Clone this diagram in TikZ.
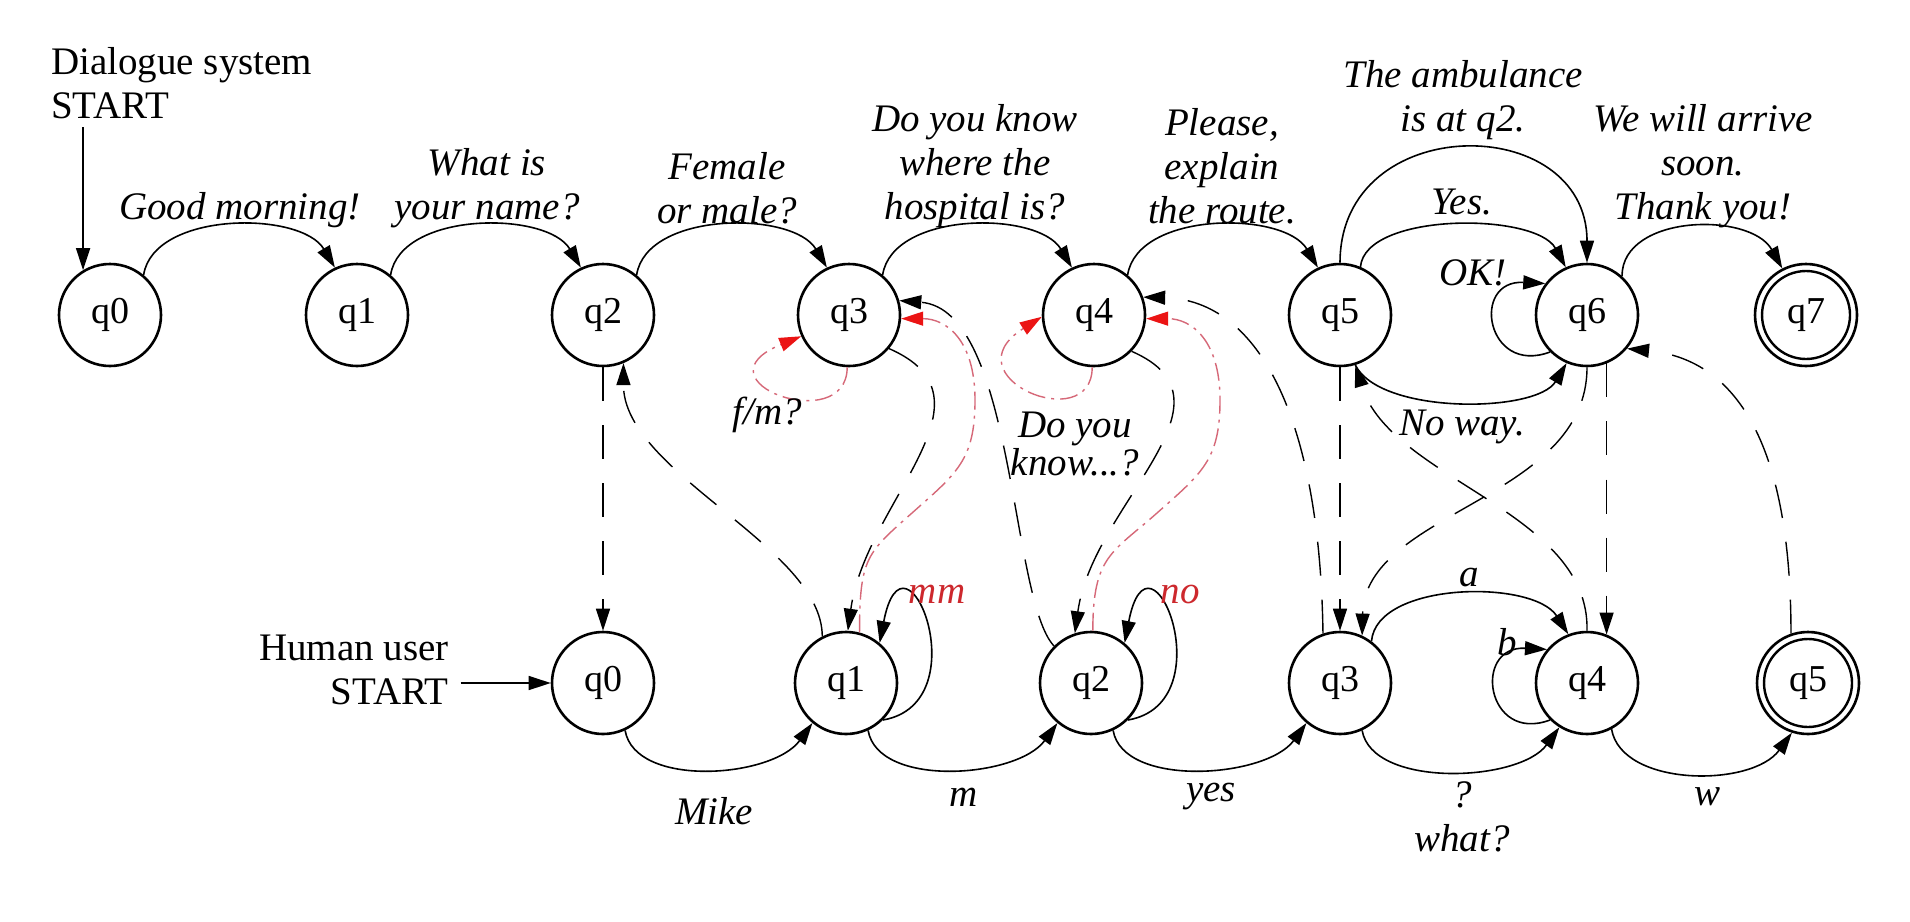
\documentclass[tikz,border=0pt]{standalone}
\usepackage{fontspec}
\setmainfont{Liberation Serif}
\usetikzlibrary{arrows.meta}
\definecolor{rline}{RGB}{214,104,120}
\definecolor{rtip}{RGB}{235,20,20}
\definecolor{rtext}{RGB}{205,40,45}
\begin{document}
\begin{tikzpicture}[x=1pt,y=1pt,
  st/.style={circle,draw,line width=2.6pt,minimum size=102pt,inner sep=0pt,font=\fontsize{38}{44}\selectfont},
  lab/.style={font=\fontsize{39}{44}\selectfont\itshape,align=center,inner sep=0pt},
  txt/.style={font=\fontsize{39}{44}\selectfont,inner sep=0pt},
  tip/.style={-{Triangle[length=22pt,width=14pt]}},
  arr/.style={tip,line width=1.6pt},
  dsh/.style={tip,line width=1.4pt,dash pattern=on 34pt off 24pt},
  rdd/.style={line width=1.4pt,draw=rline,dash pattern=on 18pt off 6pt on 3pt off 6pt,-{Triangle[length=22pt,width=14pt,color=rtip]}},
]
\useasboundingbox[fill=white] (0,0) rectangle (1910,-921);

% system states
\node[st] (q0) at (110,-315) {q0};
\node[st] (q1) at (357,-315) {q1};
\node[st] (q2) at (603,-315) {q2};
\node[st] (q3) at (849,-315) {q3};
\node[st] (q4) at (1094,-315) {q4};
\node[st] (q5) at (1340,-315) {q5};
\node[st] (q6) at (1587,-315) {q6};
\node[st] (q7) at (1806,-315) {q7};
\draw[line width=2.4pt] (q7.center) circle (44pt);

% user states
\node[st] (uq0) at (603,-683) {q0};
\node[st] (uq1) at (846,-683) {q1};
\node[st] (uq2) at (1091,-683) {q2};
\node[st] (uq3) at (1340,-683) {q3};
\node[st] (uq4) at (1587,-683) {q4};
\node[st] (uq5) at (1808,-683) {q5};
\draw[line width=2.4pt] (uq5.center) circle (44pt);

% start labels
\node[txt,align=left,anchor=west] (dsys) at (51,-83.5) {Dialogue system\\START};
\node[txt,align=right,anchor=east] (husr) at (449,-670) {Human user\\START};
\coordinate (s0) at ([yshift=143pt]q0.121);
\coordinate (s1) at ([xshift=-90pt]uq0.west);
\draw[arr] (s0) -- (q0.121);
\draw[arr] (s1) -- (uq0.west);

% system transitions
\draw[arr] (q0.50) .. controls +(10,64) and +(-34,57) .. (q1.115);
\draw[arr] (q1.50) .. controls +(10,64) and +(-34,57) .. (q2.115);
\draw[arr] (q2.50) .. controls +(10,64) and +(-34,57) .. (q3.115);
\draw[arr] (q3.50) .. controls +(10,64) and +(-34,57) .. (q4.115);
\draw[arr] (q4.50) .. controls +(10,64) and +(-34,57) .. (q5.115);
\draw[arr] (q5.67) .. controls +(5,55) and +(-30,55) .. (q6.114);
\draw[arr] (q5.90) .. controls +(0,152) and +(0,152) .. (q6.90);
\draw[arr] (q6.48) .. controls +(0,62) and +(-32,57) .. (q7.117);
\draw[arr] (q6.-135) .. controls +(-64,-24) and +(-75,4) .. (q6.143);
\draw[arr] (q5.-73) .. controls +(25,-50) and +(-30,-50) .. (q6.-113);

% user transitions
\draw[arr] (uq0.-65) .. controls +(10,-58) and +(-40,-55) .. (uq1.-130);
\draw[arr] (uq1.-65) .. controls +(10,-58) and +(-40,-55) .. (uq2.-130);
\draw[arr] (uq2.-65) .. controls +(10,-58) and +(-40,-55) .. (uq3.-130);
\draw[arr] (uq3.-65) .. controls +(10,-58) and +(-40,-55) .. (uq4.-122);
\draw[arr] (uq4.-62) .. controls +(10,-58) and +(-40,-55) .. (uq5.-108);
\draw[arr] (uq3.53) .. controls +(5,60) and +(-35,55) .. (uq4.111);
\draw[arr] (uq4.-135) .. controls +(-64,-24) and +(-75,4) .. (uq4.140);
\draw[arr] (uq1.-45) .. controls +(98,17) and +(25,130) .. (uq1.50);
\draw[arr] (uq2.-45) .. controls +(98,17) and +(25,130) .. (uq2.50);

% dashed links between the two machines
\draw[dsh] (q2.south) -- (uq0.north);
\draw[dsh] (uq1.117) .. controls +(0,90) and +(0,-110) .. (q2.-67);
\draw[dsh] (q3.-40) .. controls +(115,-50) and +(18,130) .. (uq1.88);
\draw[dsh] (uq2.135) .. controls +(-44,47) and +(116,-9) .. (q3.16);
\draw[dsh] (q4.-44) .. controls +(115,-50) and +(18,130) .. (uq2.108);
\draw[dsh] (uq3.109) .. controls +(-3,213) and +(117,-3) .. (q4.20);
\draw[dsh] (q5.south) -- (uq3.north);
\draw[dsh] (q6.south) .. controls +(0,-133) and +(3,125) .. (uq3.65);
\draw[dsh] (uq4.north) .. controls +(3,120) and +(35,-115) .. (q5.-73);
\draw[dsh] (q6.-68) -- (uq4.68);
\draw[dsh] (uq5.109) .. controls +(0,183) and +(113,-11) .. (q6.-40);

% red dash-dot links
\draw[rdd] (q3.-92) .. controls +(0,-70) and +(-110,-45) .. (q3.204);
\draw[rdd] (q4.-92) .. controls +(0,-70) and +(-95,-60) .. (q4.182);
\draw[rdd] (uq1.75) .. controls +(0,75) and +(-45,-40) .. (912,-513)
  .. controls +(45,40) and +(0,-60) .. (975,-400)
  .. controls +(0,60) and +(45,0) .. (q3.-4);
\draw[rdd] (uq2.88) .. controls +(0,75) and +(-45,-40) .. (1157,-513)
  .. controls +(45,40) and +(0,-60) .. (1220,-400)
  .. controls +(0,60) and +(45,0) .. (q4.-4);

% labels, system side
\node[lab] (l01) at (240,-210) {Good morning!};
\node[lab] (l12) at (487,-188.5) {What is\\your name?};
\node[lab] (l23) at (727,-188.5) {Female\\or male?};
\node[lab] (l34) at (975,-166) {Do you know\\where the\\hospital is?};
\node[lab] (l45) at (1222,-166) {Please,\\explain\\the route.};
\node[lab] (l56a) at (1463,-100) {The ambulance\\is at q2.};
\node[lab] (l56b) at (1462,-202) {Yes.};
\node[lab] (l66) at (1473,-273) {OK!};
\node[lab] (l67) at (1703,-166) {We will arrive\\soon.\\Thank you!};
\node[lab] (l33) at (767,-415) {f/m?};
\node[lab,font=\fontsize{39}{38}\selectfont\itshape] (l44) at (1075,-444) {Do you\\know...?};
\node[lab] (l65) at (1462,-427) {No way.};

% labels, user side
\node[lab,text=rtext] (lmm) at (937,-594) {mm};
\node[lab,text=rtext] (lno) at (1180,-594) {no};
\node[lab] (la) at (1469,-578) {a};
\node[lab] (lb) at (1507,-642) {b};
\node[lab] (lmike) at (714,-811) {Mike};
\node[lab] (lm) at (964,-797) {m};
\node[lab] (lyes) at (1211,-797) {yes};
\node[lab] (lq) at (1462,-817) {?\\what?};
\node[lab] (lw) at (1707,-797) {w};
\end{tikzpicture}
\end{document}
